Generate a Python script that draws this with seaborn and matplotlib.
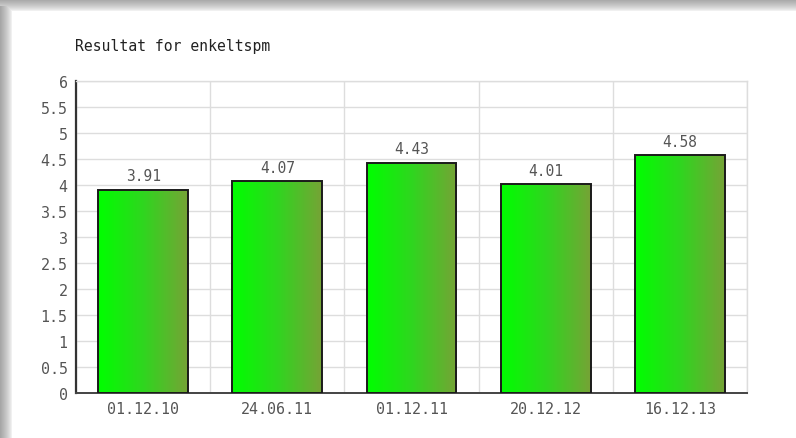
import seaborn as sns
import pandas as pd
import numpy as np
import matplotlib.pyplot as plt
from matplotlib.colors import LinearSegmentedColormap

# Chart data
dates = ['01.12.10', '24.06.11', '01.12.11', '20.12.12', '16.12.13']
scores = [3.91, 4.07, 4.43, 4.01, 4.58]
y_ticks = [0, 0.5, 1, 1.5, 2, 2.5, 3, 3.5, 4, 4.5, 5, 5.5, 6]

data = pd.DataFrame({'dato': dates, 'score': scores})

sns.set_style('white')
plt.rcParams['font.family'] = ['DejaVu Sans Mono', 'DejaVu Sans']

fig = plt.figure(figsize=(7.96, 4.39), dpi=100)
fig.patch.set_facecolor('white')

# ---- drop shadow frame (top and left) ----
bg = fig.add_axes([0, 0, 1, 1], zorder=-5)
bg.axis('off')
h, w = 439, 796
yy, xx = np.mgrid[0:h, 0:w]
top = np.clip((12 - yy) / 12.0, 0, 1)
left = np.clip((12 - xx) / 12.0, 0, 1)
shade = np.maximum(top, left * (yy > 6))
img = 1 - 0.35 * shade ** 0.7
bg.imshow(img, cmap='gray', vmin=0, vmax=1, aspect='auto', extent=[0, 1, 0, 1])
bg.set_xlim(0, 1)
bg.set_ylim(0, 1)

# ---- Bar chart ----
ax = fig.add_axes([0.0955, 0.1025, 0.843, 0.7107])
ax.set_facecolor('white')
sns.barplot(x='dato', y='score', data=data, ax=ax, width=0.67,
            color='#22dd22', edgecolor='#1a1a1a', linewidth=1.4, zorder=3)

grad_cmap = LinearSegmentedColormap.from_list('bar', ['#00ff00', '#2fd61f', '#76a336'])
grad = np.linspace(0, 1, 256).reshape(1, -1)
for p in ax.patches:
    x0, y0 = p.get_x(), p.get_y()
    im = ax.imshow(grad, cmap=grad_cmap, aspect='auto', zorder=3.5,
                   extent=[x0, x0 + p.get_width(), y0, y0 + p.get_height()])
    im.set_clip_path(p)
    p.set_facecolor('none')
    p.set_zorder(4)

for i, v in enumerate(scores):
    ax.text(i, v + 0.12, f'{v:.2f}', ha='center', va='bottom',
            fontsize=10.5, color='#555555', zorder=5)

ax.set_xlim(-0.5, len(dates) - 0.5)
ax.set_ylim(0, 6)
ax.set_yticks(y_ticks)
ax.set_yticklabels([f'{t:g}' for t in y_ticks])
ax.set_xticks(range(len(dates)))
ax.set_xticklabels(dates)
ax.set_xticks(np.arange(-0.5, len(dates)), minor=True)
ax.tick_params(axis='both', which='both', length=0, labelsize=10.8,
               labelcolor='#555555', pad=6)
ax.grid(True, axis='y', which='major', color='#dddddd', linewidth=1, zorder=0)
ax.grid(True, axis='x', which='minor', color='#dddddd', linewidth=1, zorder=0)
ax.set_axisbelow(True)
ax.set_xlabel('')
ax.set_ylabel('')

for s in ['top', 'right']:
    ax.spines[s].set_color('#dddddd')
    ax.spines[s].set_linewidth(1)
ax.spines['left'].set_color('#333333')
ax.spines['bottom'].set_color('#444444')
ax.spines['left'].set_linewidth(1.6)
ax.spines['bottom'].set_linewidth(1.4)

fig.text(75 / 796, 1 - 47 / 439, 'Resultat for enkeltspm', fontsize=10.6,
         color='#222222', va='center', ha='left')

fig.savefig('out.png', dpi=100)
